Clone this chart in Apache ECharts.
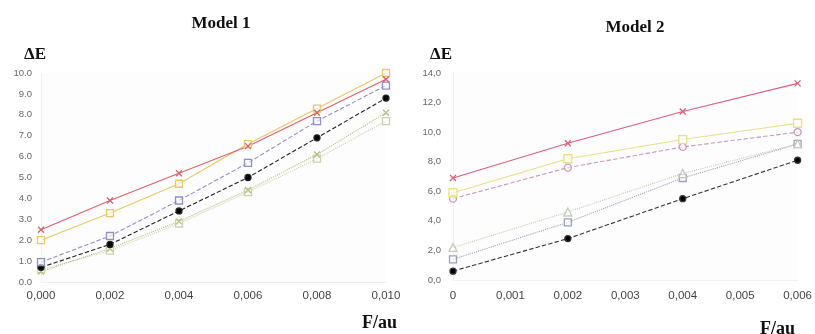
<!DOCTYPE html>
<html><head><meta charset="utf-8">
<script src="https://cdn.jsdelivr.net/npm/echarts@6/dist/echarts.min.js"></script>
<style>html,body{margin:0;padding:0;background:#fff}#c{width:815px;height:334px}</style>
</head><body><div id="c"></div>
<script>
// Model 1
var x1 = [0, 0.002, 0.004, 0.006, 0.008, 0.010];
var m1Red    = [2.5, 3.9, 5.2, 6.5, 8.1, 9.7];
var m1Yellow = [2.0, 3.3, 4.7, 6.6, 8.3, 10.0];
var m1Purple = [0.95, 2.2, 3.9, 5.7, 7.7, 9.4];
var m1Black  = [0.7, 1.8, 3.4, 5.0, 6.9, 8.8];
var m1Green  = [0.5, 1.6, 2.9, 4.4, 6.1, 8.1];
var m1Gray   = [0.6, 1.5, 2.8, 4.3, 5.9, 7.7];
// Model 2
var x2 = [0, 0.002, 0.004, 0.006];
var m2Red    = [6.9, 9.25, 11.4, 13.3];
var m2Yellow = [5.9, 8.2, 9.5, 10.6];
var m2Pink   = [5.5, 7.6, 9.0, 10.0];
var m2Tri    = [2.2, 4.6, 7.2, 9.2];
var m2Blue   = [1.4, 3.9, 6.9, 9.2];
var m2Black  = [0.6, 2.8, 5.5, 8.1];

function pairs(xs, ys){ return xs.map(function(x,i){ return [x, ys[i]]; }); }

var serif = '"Liberation Serif","DejaVu Serif",serif';
var sans = '"Liberation Sans",Arial,sans-serif';
var cross = 'path://M0,0L10,10M10,0L0,10';

function mk(name, xs, ys, idx, color, lineType, symbol, size, fill){
  return {
    type:'line', name:name, xAxisIndex:idx, yAxisIndex:idx,
    data: pairs(xs, ys), symbol: symbol, symbolSize: size || 6,
    lineStyle:{color:color, width:1.1, type:lineType},
    itemStyle:{color: fill || 'rgba(255,255,255,0.6)', borderColor:color, borderWidth:1.3},
    animation:false
  };
}

var chart = echarts.init(document.getElementById('c'));
chart.setOption({
  backgroundColor:'#fff',
  animation:false,
  title:[
    {text:'Model 1', left:216, top:10, textAlign:'center', textStyle:{fontFamily:serif, fontWeight:'bold', fontSize:17, color:'#111'}},
    {text:'Model 2', left:630, top:14, textAlign:'center', textStyle:{fontFamily:serif, fontWeight:'bold', fontSize:17, color:'#111'}},
    {text:'ΔE', left:19, top:41, textStyle:{fontFamily:serif, fontWeight:'bold', fontSize:17, color:'#111'}},
    {text:'ΔE', left:425, top:41, textStyle:{fontFamily:serif, fontWeight:'bold', fontSize:17, color:'#111'}},
    {text:'F/au', left:357, top:309, textStyle:{fontFamily:serif, fontWeight:'bold', fontSize:18, color:'#111'}},
    {text:'F/au', left:755, top:315, textStyle:{fontFamily:serif, fontWeight:'bold', fontSize:18, color:'#111'}}
  ],
  grid:[
    {left:41, top:73, width:345, height:209, backgroundColor:'#fdfdfd', show:true, borderWidth:0},
    {left:453, top:73, width:347, height:207, backgroundColor:'#fdfdfd', show:true, borderWidth:0}
  ],
  xAxis:[
    {type:'value', gridIndex:0, min:0, max:0.01, interval:0.002,
     axisLine:{show:true, lineStyle:{color:'#f0f0f0'}}, axisTick:{show:false}, splitLine:{show:false},
     axisLabel:{margin:8, color:'#444', fontSize:11.5, fontFamily:sans, formatter:function(v){return v.toFixed(3).replace('.',',');}}},
    {type:'value', gridIndex:1, min:0, max:0.006, interval:0.001,
     axisLine:{show:true, lineStyle:{color:'#f0f0f0'}}, axisTick:{show:false}, splitLine:{show:false},
     axisLabel:{margin:10, color:'#444', fontSize:11.5, fontFamily:sans, formatter:function(v){return v===0?'0':v.toFixed(3).replace('.',',');}}}
  ],
  yAxis:[
    {type:'value', gridIndex:0, min:0, max:10, interval:1,
     axisLine:{show:true, lineStyle:{color:'#f0f0f0'}}, axisTick:{show:false}, splitLine:{show:false},
     axisLabel:{margin:9, color:'#666', fontSize:9.5, fontFamily:sans, formatter:function(v){return v.toFixed(1);}}},
    {type:'value', gridIndex:1, min:0, max:14, interval:2,
     axisLine:{show:true, lineStyle:{color:'#f0f0f0'}}, axisTick:{show:false}, splitLine:{show:false},
     axisLabel:{margin:12, color:'#666', fontSize:9.5, fontFamily:sans, formatter:function(v){return v.toFixed(1).replace('.',',');}}}
  ],
  series:[
    mk('m1Gray',   x1, m1Gray,   0, '#cfcfb0', 'dotted', 'rect', 7),
    mk('m1Green',  x1, m1Green,  0, '#b0c080', 'dotted', cross, 6),
    mk('m1Black',  x1, m1Black,  0, '#222', 'dashed', 'circle', 6, '#000'),
    mk('m1Purple', x1, m1Purple, 0, '#9090c8', 'dashed', 'rect', 7),
    mk('m1Yellow', x1, m1Yellow, 0, '#e8c868', 'solid', 'rect', 7),
    mk('m1Red',    x1, m1Red,    0, '#d86070', 'solid', cross, 6),
    mk('m2Black',  x2, m2Black,  1, '#333', 'dashed', 'circle', 6, '#000'),
    mk('m2Blue',   x2, m2Blue,   1, '#9aa0c0', 'dotted', 'rect', 7),
    mk('m2Tri',    x2, m2Tri,    1, '#c8c8b8', 'dotted', 'triangle', 8),
    mk('m2Pink',   x2, m2Pink,   1, '#c898b8', 'dashed', 'circle', 7),
    mk('m2Yellow', x2, m2Yellow, 1, '#e8e088', 'solid', 'rect', 8),
    mk('m2Red',    x2, m2Red,    1, '#d8607a', 'solid', cross, 6)
  ]
});
</script></body></html>
